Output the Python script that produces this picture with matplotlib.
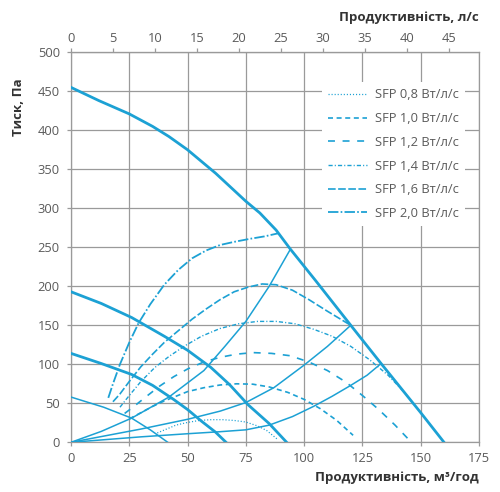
import matplotlib
matplotlib.use("Agg")
import matplotlib.pyplot as plt

plt.rcParams['font.family'] = ['Open Sans', 'DejaVu Sans']
plt.rcParams['lines.scale_dashes'] = False

C = '#1ca1d4'
GRID = '#9a9a9a'
TXT = '#5a5a5a'

# Fan curves (m3/h, Pa)
fan1_x = [0, 12, 25, 35, 42, 50, 62, 75, 81, 88, 94, 105, 120, 133, 150, 160]
fan1_y = [455, 438, 421, 405, 392, 375, 345, 309, 294, 272, 248, 207, 150, 101, 38, 0]
fan2_x = [0, 13, 26, 40, 50, 60, 68, 76, 85, 92.5]
fan2_y = [193, 178, 160, 136, 118, 96, 74, 48, 24, 0]
fan3_x = [0, 13, 26, 35, 44, 50, 56, 62, 66.5]
fan3_y = [114, 101, 87, 73, 55, 42, 27, 13, 0]
fan4_x = [0, 14, 26, 34, 41.5]
fan4_y = [58, 45, 31, 16, 0]

# System curves
sysA_x = [0, 13, 26, 42, 57, 66, 75, 85, 94]
sysA_y = [0, 14, 31, 58, 92, 123, 155, 200, 247]
sysB_x = [0, 30, 50, 64, 75, 87, 100, 110, 120]
sysB_y = [0, 17, 29.5, 40, 51, 70, 99, 123, 150]
sysC_x = [0, 30, 50, 64, 75, 85, 95, 104, 112, 120, 127, 133]
sysC_y = [0, 7, 11, 13.6, 16, 22, 33, 46, 59, 73, 86, 101]

# SFP curves
sfp_labels = ['SFP 0,8 Вт/л/с', 'SFP 1,0 Вт/л/с', 'SFP 1,2 Вт/л/с',
              'SFP 1,4 Вт/л/с', 'SFP 1,6 Вт/л/с', 'SFP 2,0 Вт/л/с']
sfp08_x = [37, 41, 45, 50, 55, 60, 65, 70, 75, 80, 84, 88.5]
sfp08_y = [12, 17, 22, 25.5, 28, 29, 29, 28, 26, 21, 15, 4]
sfp10_x = [25, 30, 35, 40, 45, 50, 57, 64, 71, 78, 85, 93, 100, 107, 114, 121]
sfp10_y = [30, 38, 46, 53, 59, 65, 70, 73.5, 75, 74.5, 71, 64, 55, 43, 28, 9]
sfp12_x = [23, 27, 32, 38, 44, 50, 57, 64, 71, 78, 86, 94, 102, 110, 118, 125, 132, 139, 146]
sfp12_y = [37, 46, 58, 72, 84, 94, 103, 109, 113, 115, 114, 111, 103, 92, 77, 60, 42, 22, 0]
sfp14_x = [21, 25, 30, 36, 42, 49, 56, 64, 72, 80, 88, 96, 104, 112, 120, 128, 136, 143, 147]
sfp14_y = [45, 60, 78, 96, 110, 124, 136, 146, 152, 155, 155, 152, 145, 136, 123, 106, 86, 64, 49]
sfp16_x = [18, 21, 25, 30, 35, 40, 46, 52, 58, 64, 70, 76, 82, 88, 95, 102, 110, 120]
sfp16_y = [52, 62, 78, 97, 113, 128, 143, 158, 171, 183, 193, 199, 203, 202, 195, 183, 168, 150]
sfp20_x = [16, 18, 21, 25, 29, 34, 40, 46, 52, 58, 64, 70, 77, 83, 89]
sfp20_y = [57, 75, 100, 128, 153, 177, 202, 221, 236, 246, 253, 257, 261, 264, 268]

x_ticks = [0, 25, 50, 75, 100, 125, 150, 175]
y_ticks = [0, 50, 100, 150, 200, 250, 300, 350, 400, 450, 500]
top_ticks = [0, 5, 10, 15, 20, 25, 30, 35, 40, 45]

fig = plt.figure(figsize=(5.0, 4.92), dpi=100)
ax = fig.add_axes([0.142, 0.101, 0.816, 0.7927])
ax.set_xlim(0, 175)
ax.set_ylim(0, 500)

for xs, ys, lw in [(fan1_x, fan1_y, 2.0), (fan2_x, fan2_y, 2.0),
                   (fan3_x, fan3_y, 2.0), (fan4_x, fan4_y, 1.1)]:
    ax.plot(xs, ys, color=C, lw=lw, solid_joinstyle='round', zorder=4)
for xs, ys in [(sysA_x, sysA_y), (sysB_x, sysB_y), (sysC_x, sysC_y)]:
    ax.plot(xs, ys, color=C, lw=1.1, zorder=3)

styles = [(0, (0.8, 1.4)), (0, (3.6, 2.6)), (0, (5.0, 5.5)),
          (0, (3.0, 1.5, 0.8, 1.5)), (0, (5.5, 1.8)), (0, (7.5, 1.6, 1.2, 1.6))]
lws = [0.9, 1.2, 1.2, 1.0, 1.2, 1.3]
data = [(sfp08_x, sfp08_y), (sfp10_x, sfp10_y), (sfp12_x, sfp12_y),
        (sfp14_x, sfp14_y), (sfp16_x, sfp16_y), (sfp20_x, sfp20_y)]
handles = []
for (xs, ys), ls, lw, lab in zip(data, styles, lws, sfp_labels):
    ln, = ax.plot(xs, ys, color=C, lw=lw, linestyle=ls, zorder=3, label=lab)
    handles.append(ln)

ax.set_xticks(x_ticks)
ax.set_yticks(y_ticks)
ax.grid(True, color=GRID, lw=0.9, zorder=0)
ax.set_axisbelow(True)
for s in ax.spines.values():
    s.set_color(GRID)
    s.set_linewidth(0.9)
ax.tick_params(axis='both', colors=GRID, length=3, width=0.9, labelcolor=TXT, labelsize=9.3)
ax.tick_params(axis='y', pad=5)
ax.tick_params(axis='x', pad=4)

top = ax.secondary_xaxis('top', functions=(lambda v: v / 3.6, lambda v: v * 3.6))
top.set_xticks(top_ticks)
top.tick_params(colors=GRID, length=3, width=0.9, labelcolor=TXT, labelsize=9.3, pad=2)
top.spines['top'].set_color(GRID)

leg = ax.legend(handles=handles, loc='upper left', bbox_to_anchor=(0.615, 0.924),
                borderaxespad=0, borderpad=0.5, frameon=True, fancybox=False,
                facecolor='white', edgecolor='none', framealpha=1,
                handlelength=3.0, handletextpad=0.6, labelspacing=0.83, fontsize=9.3)
for t in leg.get_texts():
    t.set_color(TXT)
leg.set_zorder(6)

fig.text(479 / 500, 1 - 477 / 492, 'Продуктивність, м³/год', ha='right', va='center',
         fontsize=9.5, fontweight='bold', color='#333333')
fig.text(479 / 500, 1 - 17 / 492, 'Продуктивність, л/с', ha='right', va='center',
         fontsize=9.5, fontweight='bold', color='#333333')
fig.text(18 / 500, 1 - 78 / 492, 'Тиск, Па', ha='center', va='top', rotation=90,
         fontsize=9.5, fontweight='bold', color='#333333')

fig.savefig('out.png', dpi=100)
